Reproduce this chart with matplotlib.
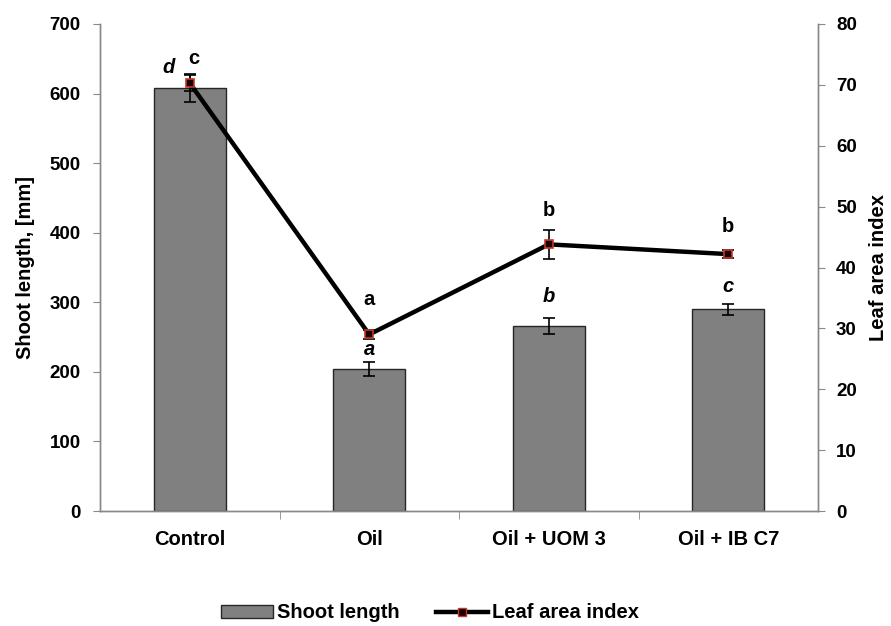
import matplotlib
matplotlib.use("Agg")
import matplotlib.pyplot as plt
from matplotlib.lines import Line2D
from matplotlib.patches import Patch

categories = ["Control", "Oil", "Oil + UOM 3", "Oil + IB C7"]
shoot_length = [608, 204, 266, 290]
shoot_err = [20, 10, 12, 8]
lai = [70.3, 29.0, 43.8, 42.2]
lai_err = [1.3, 0.8, 2.4, 0.7]
shoot_letters = ["d", "a", "b", "c"]
lai_letters = ["c", "a", "b", "b"]

plt.rcParams['font.family'] = ['Liberation Sans', 'DejaVu Sans']
plt.rcParams['font.weight'] = 'bold'

TICK_FS = 13.5
LABEL_FS = 14.5

fig = plt.figure(figsize=(8.91, 6.26), dpi=100)
ax = fig.add_axes([100/891, 1-511/626, 718/891, 487/626])
ax2 = ax.twinx()

x = list(range(len(categories)))
ax.bar(x, shoot_length, width=0.4, color="#808080", edgecolor="#262626", linewidth=1.0, zorder=2)
ax.errorbar(x, shoot_length, yerr=shoot_err, fmt="none", ecolor="black", elinewidth=1.2,
            capsize=4, capthick=1.2, zorder=3)

ax2.errorbar(x, lai, yerr=lai_err, fmt="none", ecolor="black", elinewidth=1.2,
             capsize=4, capthick=1.2, zorder=3)
ax2.plot(x, lai, color="black", linewidth=3.2, marker="s", markersize=6,
         markerfacecolor="#1a0000", markeredgecolor="#c0392b", markeredgewidth=1.2, zorder=4)

ax.set_xlim(-0.5, 3.5)
ax.set_ylim(0, 700)
ax2.set_ylim(0, 80)
ax.set_yticks(range(0, 701, 100))
ax2.set_yticks(range(0, 81, 10))
ax.set_xticks(x)
ax.set_xticklabels(categories, fontsize=LABEL_FS, fontweight='bold')
ax.set_xticks([0.5, 1.5, 2.5], minor=True)
ax.tick_params(axis='x', which='major', length=0, pad=14)
ax.tick_params(axis='x', which='minor', length=6, color="#888888", direction='out')
ax.tick_params(axis='y', length=5, color="#888888", labelsize=TICK_FS, pad=9)
ax2.tick_params(axis='y', length=5, color="#888888", labelsize=TICK_FS, pad=8)
for t in ax.get_yticklabels() + ax2.get_yticklabels():
    t.set_fontweight('bold')

for a in (ax, ax2):
    a.spines['top'].set_visible(False)
    for s in ('left', 'right', 'bottom'):
        a.spines[s].set_color("#888888")
        a.spines[s].set_linewidth(1.0)

ax.set_ylabel("Shoot length, [mm]", fontsize=LABEL_FS, fontweight='bold')
ax2.set_ylabel("Leaf area index", fontsize=LABEL_FS, fontweight='bold')
ax.yaxis.set_label_coords((35-100)/718, 0.5)
ax2.yaxis.set_label_coords((869-100)/718, 0.5)

# significance letters
LET_FS = 14.5
ax.text(0 - 0.12, shoot_length[0] + 30, shoot_letters[0], style='italic', fontsize=LET_FS,
        fontweight='bold', ha='center', va='center')
ax.text(1, shoot_length[1] + 28, shoot_letters[1], style='italic', fontsize=LET_FS,
        fontweight='bold', ha='center', va='center')
ax.text(2, shoot_length[2] + 43, shoot_letters[2], style='italic', fontsize=LET_FS,
        fontweight='bold', ha='center', va='center')
ax.text(3, shoot_length[3] + 32, shoot_letters[3], style='italic', fontsize=LET_FS,
        fontweight='bold', ha='center', va='center')

ax2.text(0 + 0.02, lai[0] + 4.0, lai_letters[0], fontsize=LET_FS, fontweight='bold', ha='center', va='center')
ax2.text(1, lai[1] + 5.7, lai_letters[1], fontsize=LET_FS, fontweight='bold', ha='center', va='center')
ax2.text(2, lai[2] + 5.5, lai_letters[2], fontsize=LET_FS, fontweight='bold', ha='center', va='center')
ax2.text(3, lai[3] + 4.5, lai_letters[3], fontsize=LET_FS, fontweight='bold', ha='center', va='center')

handles = [Patch(facecolor="#808080", edgecolor="#262626", linewidth=1.0),
           Line2D([0], [0], color="black", linewidth=3.2, marker="s", markersize=6,
                  markerfacecolor="#1a0000", markeredgecolor="#c0392b")]
fig.legend(handles, ["Shoot length", "Leaf area index"], loc='center',
           bbox_to_anchor=(430/891, 1-613/626), ncol=2, frameon=False,
           prop={'weight': 'bold', 'size': LABEL_FS}, handlelength=2.6, handleheight=0.6,
           columnspacing=1.8, handletextpad=0.2)

fig.savefig("out.png", dpi=100)
